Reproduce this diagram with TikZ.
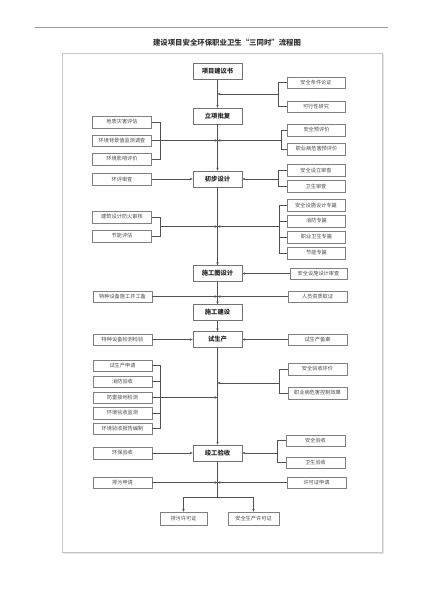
\documentclass[tikz,border=0pt]{standalone}
\usepackage{fontspec}
\newfontfamily\cjk{Noto Sans CJK SC}
\usetikzlibrary{arrows.meta}
\tikzset{
 sbox/.style={draw=black!50, line width=0.5pt, minimum height=11.5pt, inner sep=0pt, font=\cjk\fontsize{5.2}{6}\selectfont, text=black!70},
 lbox/.style={sbox, minimum width=59pt},
 rbox/.style={sbox, minimum width=58pt},
 bbox/.style={sbox, minimum height=13pt},
 mbox/.style={draw=black!55, line width=0.6pt, minimum width=49pt, minimum height=16pt, inner sep=0pt, font=\cjk\bfseries\fontsize{6.3}{7}\selectfont, text=black!85},
 ln/.style={draw=black!68, line width=0.45pt},
 arr/.style={ln, -{Stealth[length=3pt,width=2.4pt]}},
}
\begin{document}
\begin{tikzpicture}[x=1pt,y=-1pt]
\useasboundingbox (0,0) rectangle (423,600);
% page frame
\draw[black!40, line width=0.6pt] (35,27) -- (388,27);
\draw[black!10, line width=1.6pt] (63.5,54.5) rectangle (383.2,553.2);
\draw[black!22, line width=0.5pt, fill=white] (62,53) rectangle (382,552);
\node[font=\cjk\bfseries\fontsize{7.4}{8}\selectfont, text=black!80] (title) at (227,43) {建设项目安全环保职业卫生“三同时”流程图};

% main column
\node[mbox] (m1) at (217.5,71.5) {项目建议书};
\node[mbox] (m2) at (217.5,116) {立项批复};
\node[mbox] (m3) at (217.5,179) {初步设计};
\node[mbox] (m4) at (217.5,273.5) {施工图设计};
\node[mbox] (m5) at (217.5,312.5) {施工建设};
\node[mbox] (m6) at (217.5,339.5) {试生产};
\node[mbox] (m7) at (217.5,453) {竣工验收};

\draw[arr] (m1) -- (m2);
\draw[arr] (m2) -- (m3);
\draw[arr] (m3) -- (m4);
\draw[arr] (m4) -- (m5);
\draw[arr] (m5) -- (m6);
\draw[arr] (m6) -- (m7);

% group 1 (right)
\node[rbox] (r1a) at (316,82.5) {安全条件论证};
\node[rbox] (r1b) at (316,106.5) {可行性研究};
\coordinate (k1) at (278,94);
\coordinate (j1) at (217.5,94);
\draw[ln] (r1a.west) -| (k1 |- r1b.west) -- (r1b.west);
\draw[arr] (k1) -- (j1);

% group 2
\node[lbox] (l2a) at (122,122) {地质灾害评估};
\node[lbox] (l2b) at (122,140.5) {环境背景值监测调查};
\node[lbox] (l2c) at (122,159) {环境影响评价};
\coordinate (bl2) at (160,140.5);
\coordinate (j2) at (217.5,140.5);
\draw[ln] (l2a.east) -| (bl2 |- l2c.east) -- (l2c.east);
\draw[arr] (l2b.east) -- (j2);
\node[rbox] (r2a) at (316.5,130) {安全预评价};
\node[rbox] (r2b) at (316.5,149) {职业病危害预评价};
\coordinate (k2) at (281,140.5);
\draw[ln] (r2a.west) -| (k2 |- r2b.west) -- (r2b.west);
\draw[arr] (k2) -- (j2);

% group 3
\node[lbox] (l3) at (122,179) {环评审查};
\draw[arr] (l3) -- (m3);
\node[rbox] (r3a) at (316,170) {安全设立审查};
\node[rbox] (r3b) at (316,186) {卫生审查};
\coordinate (k3) at (278,179);
\draw[ln] (r3a.west) -| (k3 |- r3b.west) -- (r3b.west);
\draw[arr] (k3) -- (m3.east);

% group 4
\node[lbox] (l4a) at (122,217) {建筑设计防火审核};
\node[lbox] (l4b) at (122,236) {节能评估};
\coordinate (bl4) at (160,226.5);
\coordinate (j4) at (217.5,226.5);
\draw[ln] (l4a.east) -| (bl4 |- l4b.east) -- (l4b.east);
\draw[arr] (bl4) -- (j4);
\node[rbox] (r4a) at (316,205) {安全设施设计专篇};
\node[rbox] (r4b) at (316.5,221) {消防专篇};
\node[rbox] (r4c) at (316.5,237) {职业卫生专篇};
\node[rbox] (r4d) at (316.5,253) {节能专篇};
\coordinate (k4) at (279,226.5);
\draw[ln] (r4a.west) -| (k4 |- r4d.west) -- (r4d.west);
\draw[ln] (r4b.west) -- (r4b.west -| k4);
\draw[ln] (r4c.west) -- (r4c.west -| k4);
\draw[arr] (k4) -- (j4);

% group 5
\node[rbox, minimum width=57pt] (r5) at (318.5,273.5) {安全设施设计审查};
\draw[arr] (r5) -- (m4);

% group 6
\node[lbox] (l6) at (122.5,296.5) {特种设备施工开工备};
\node[rbox, minimum width=59pt] (r6) at (317.5,296.5) {人员资质取证};
\coordinate (j6) at (217.5,296.5);
\draw[arr] (l6) -- (j6);
\draw[arr] (r6) -- (j6);

% group 7
\node[lbox] (l7) at (122.5,339.5) {特种设备检测检验};
\node[rbox, minimum width=59pt] (r7) at (317.5,339.5) {试生产备案};
\draw[arr] (l7) -- (m6);
\draw[arr] (r7) -- (m6);

% group 8
\node[lbox] (l8a) at (122.5,365.5) {试生产申请};
\node[lbox] (l8b) at (122.5,381.5) {消防验收};
\node[lbox] (l8c) at (122.5,397.5) {防雷接地检测};
\node[lbox] (l8d) at (122.5,413) {环境验收监测};
\node[lbox] (l8e) at (122.5,428.5) {环境验收报告编制};
\coordinate (bl8) at (160,397.5);
\coordinate (j8a) at (217.5,397.5);
\draw[ln] (l8a.east) -| (bl8 |- l8e.east) -- (l8e.east);
\draw[ln] (l8b.east) -- (l8b.east -| bl8);
\draw[ln] (l8d.east) -- (l8d.east -| bl8);
\draw[arr] (l8c.east) -- (j8a);
\node[rbox, minimum width=59pt] (r8a) at (317.5,369) {安全验收评价};
\node[rbox, minimum width=59pt] (r8b) at (317.5,393) {职业病危害控制效果};
\coordinate (k8) at (279,383);
\coordinate (j8b) at (217.5,383);
\draw[ln] (r8a.west) -| (k8 |- r8b.west) -- (r8b.west);
\draw[arr] (k8) -- (j8b);

% group 9
\node[lbox] (l9) at (122.5,453) {环保验收};
\draw[arr] (l9) -- (m7);
\node[rbox, minimum width=59pt] (r9a) at (315.5,440.5) {安全验收};
\node[rbox, minimum width=59pt] (r9b) at (315.5,462.5) {卫生验收};
\coordinate (k9) at (277,453);
\draw[ln] (r9a.west) -| (k9 |- r9b.west) -- (r9b.west);
\draw[arr] (k9) -- (m7.east);

% group 10
\node[lbox] (l10) at (122.5,482.5) {排污申请};
\node[rbox, minimum width=59pt] (r10) at (316.5,482.5) {许可证申请};
\coordinate (j10) at (217.5,482.5);
\draw[arr] (l10) -- (j10);
\draw[arr] (r10) -- (j10);

% bottom
\node[bbox, minimum width=47pt] (b1) at (183.5,518.5) {排污许可证};
\node[bbox, minimum width=51pt] (b2) at (253.5,518.5) {安全生产许可证};
\coordinate (br) at (217.5,497);
\draw[ln] (m7.south) -- (br);
\draw[arr] (br) -| (b1.north);
\draw[arr] (br) -| (b2.north);
\end{tikzpicture}
\end{document}
